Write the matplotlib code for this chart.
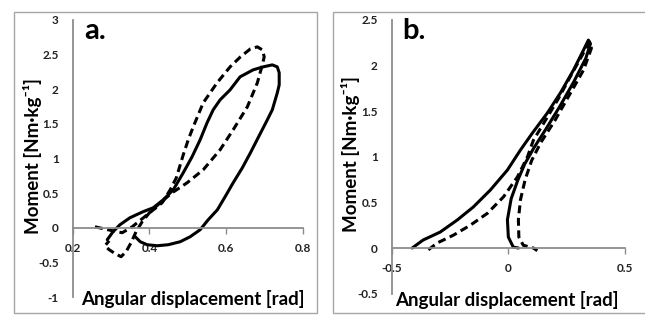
import matplotlib
matplotlib.use("Agg")
import matplotlib.pyplot as plt
from matplotlib.patches import Rectangle

plt.rcParams['font.family'] = ['Lato', 'DejaVu Sans']

# ---- Panel a data ----
a_solid_x = [0.290, 0.305, 0.323, 0.349, 0.383, 0.410, 0.436, 0.462, 0.488, 0.511,
             0.532, 0.550, 0.566, 0.584, 0.610, 0.636, 0.670, 0.696, 0.720, 0.733,
             0.738, 0.738, 0.733, 0.720, 0.707, 0.683, 0.663, 0.642, 0.618, 0.597,
             0.577, 0.553, 0.532, 0.506, 0.480, 0.449, 0.420, 0.394, 0.376, 0.363]
a_solid_y = [-0.173, -0.058, 0.043, 0.144, 0.231, 0.289, 0.404, 0.548, 0.794, 1.025,
             1.270, 1.515, 1.703, 1.847, 1.991, 2.179, 2.280, 2.323, 2.352, 2.323,
             2.237, 2.063, 1.948, 1.703, 1.558, 1.299, 1.082, 0.866, 0.649, 0.447,
             0.260, 0.115, -0.029, -0.130, -0.202, -0.245, -0.260, -0.245, -0.202, -0.130]

a_dash_x = [0.258, 0.292, 0.329, 0.355, 0.381, 0.407, 0.433, 0.454, 0.470, 0.488,
            0.501, 0.514, 0.540, 0.576, 0.610, 0.637, 0.663, 0.681, 0.694, 0.699,
            0.694, 0.681, 0.655, 0.618, 0.584, 0.540, 0.498, 0.459, 0.428, 0.402,
            0.381, 0.365, 0.352, 0.339, 0.326, 0.311, 0.295, 0.284, 0.295]
a_dash_y = [0.014, -0.029, -0.072, 0.014, 0.130, 0.245, 0.361, 0.548, 0.722, 1.053,
            1.270, 1.457, 1.804, 2.092, 2.323, 2.468, 2.583, 2.612, 2.569, 2.468,
            2.352, 2.092, 1.746, 1.414, 1.126, 0.837, 0.649, 0.505, 0.361, 0.231,
            0.087, -0.058, -0.216, -0.346, -0.418, -0.375, -0.317, -0.260, -0.188]

a_xticks = [0.2, 0.4, 0.6, 0.8]
a_yticks = [-1, -0.5, 0, 0.5, 1, 1.5, 2, 2.5, 3]

# ---- Panel b data ----
b_solid_x = [-0.412, -0.365, -0.292, -0.219, -0.150, -0.077, -0.004, 0.052, 0.103, 0.167,
             0.223, 0.279, 0.322, 0.343, 0.352, 0.332, 0.280, 0.220, 0.160, 0.110,
             0.070, 0.040, 0.012, -0.004, 0.000, 0.021, 0.043]
b_solid_y = [0.0, 0.088, 0.175, 0.307, 0.450, 0.636, 0.855, 1.075, 1.260, 1.480,
             1.700, 1.950, 2.170, 2.280, 2.240, 2.080, 1.820, 1.550, 1.300, 1.100,
             0.920, 0.740, 0.540, 0.310, 0.120, 0.010, 0.0]

b_dash_x = [-0.343, -0.305, -0.236, -0.163, -0.090, -0.021, 0.039, 0.082, 0.107, 0.159,
            0.215, 0.270, 0.318, 0.348, 0.356, 0.322, 0.262, 0.200, 0.140, 0.100,
            0.072, 0.052, 0.043, 0.045, 0.064, 0.107, 0.124]
b_dash_y = [-0.02, 0.055, 0.140, 0.250, 0.380, 0.560, 0.780, 1.000, 1.180, 1.400,
            1.640, 1.900, 2.120, 2.260, 2.190, 1.950, 1.680, 1.400, 1.160, 0.960,
            0.750, 0.530, 0.310, 0.120, 0.030, 0.0, -0.030]

b_xticks = [-0.5, 0, 0.5]
b_yticks = [-0.5, 0, 0.5, 1, 1.5, 2, 2.5]

W, H = 645, 315
fig = plt.figure(figsize=(W / 100, H / 100), dpi=100)

# panel frames
for (x0, y0, x1, y1) in [(14, 12, 317, 313), (333, 12, 646, 313)]:
    fig.add_artist(Rectangle((x0 / W, 1 - y1 / H), (x1 - x0) / W, (y1 - y0) / H,
                             transform=fig.transFigure, fill=False,
                             edgecolor='#a6a6a6', linewidth=1.0))

axis_col = '#8c8c8c'
lw = 2.2
dash = (0, (2.6, 1.5))


def style(ax, xlim, ylim, xticks, yticks, xlabels, ylabels):
    ax.set_xlim(*xlim)
    ax.set_ylim(*ylim)
    for s in ['top', 'right']:
        ax.spines[s].set_visible(False)
    ax.spines['bottom'].set_position(('data', 0))
    ax.spines['left'].set_color(axis_col)
    ax.spines['bottom'].set_color(axis_col)
    ax.spines['left'].set_linewidth(1.3)
    ax.spines['bottom'].set_linewidth(1.3)
    ax.set_xticks(xticks)
    ax.set_xticklabels(xlabels)
    ax.set_yticks(yticks)
    ax.set_yticklabels(ylabels)
    ax.tick_params(axis='x', direction='out', length=4, width=1.0, color=axis_col,
                   pad=7, labelsize=8.5)
    ax.tick_params(axis='y', length=0, pad=10, labelsize=8.5)
    for t in ax.get_xticklabels() + ax.get_yticklabels():
        t.set_fontweight('bold')
        t.set_color('#222222')
    ax.patch.set_alpha(0)


# ---- Panel a ----
axa = fig.add_axes([72.7 / W, 1 - 297 / H, (303 - 72.7) / W, (297 - 20) / H])
axa.plot(a_solid_x, a_solid_y, color='black', lw=lw, solid_capstyle='round',
         solid_joinstyle='round')
axa.plot(a_dash_x, a_dash_y, color='black', lw=lw, linestyle=dash,
         dash_capstyle='butt', dash_joinstyle='round')
style(axa, (0.2, 0.8), (-1, 3), a_xticks, a_yticks,
      ['0.2', '0.4', '0.6', '0.8'], ['-1', '-0.5', '0', '0.5', '1', '1.5', '2', '2.5', '3'])

# ---- Panel b ----
axb = fig.add_axes([391.7 / W, 1 - 293.6 / H, (625 - 391.7) / W, (293.6 - 20) / H])
axb.plot(b_solid_x, b_solid_y, color='black', lw=lw, solid_capstyle='round',
         solid_joinstyle='round')
axb.plot(b_dash_x, b_dash_y, color='black', lw=lw, linestyle=dash,
         dash_capstyle='butt', dash_joinstyle='round')
style(axb, (-0.5, 0.5), (-0.5, 2.5), b_xticks, b_yticks,
      ['-0.5', '0', '0.5'], ['-0.5', '0', '0.5', '1', '1.5', '2', '2.5'])

# labels
ylab = 'Moment [Nm·kg⁻¹]'
for rx, cy in [(42, 156), (360, 154)]:
    fig.text(rx / W, 1 - cy / H, ylab, rotation=90, ha='right', va='center',
             fontsize=13.5, fontweight='bold')
for cx, cy in [(193, 299), (507, 300)]:
    fig.text(cx / W, 1 - cy / H, 'Angular displacement [rad]', ha='center',
             va='center', fontsize=13.5, fontweight='bold')

fig.text(84 / W, 1 - 31 / H, 'a.', ha='left', va='center', fontsize=21,
         fontweight='bold')
fig.text(402 / W, 1 - 31 / H, 'b.', ha='left', va='center', fontsize=21,
         fontweight='bold')

fig.savefig('out.png', dpi=100)
